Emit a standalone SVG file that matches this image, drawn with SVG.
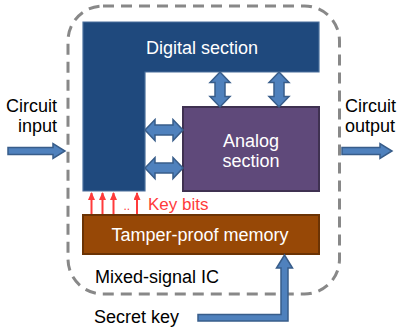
<svg xmlns="http://www.w3.org/2000/svg" width="398" height="331" viewBox="0 0 398 331">
<style>
text{font-family:"Liberation Sans",Arial,sans-serif;font-size:18px}
.w{fill:#ffffff}
.k{fill:#000000}
.arr{fill:#4F81BD;stroke:#385D8A;stroke-width:1.5;stroke-linejoin:miter}
.red{stroke:#FF3B3B;stroke-width:2;fill:none}
</style>
<defs>
<marker id="rh" viewBox="0 0 8 7" refX="7" refY="3.5" markerWidth="8" markerHeight="7" markerUnits="userSpaceOnUse" orient="auto">
<path d="M0,0 L8,3.5 L0,7 Z" fill="#FF3B3B"/>
</marker>
<polygon id="hda" points="0,0 10,-10.5 10,-5 28,-5 28,-10.5 38,0 28,10.5 28,5 10,5 10,10.5"/>
<polygon id="vda" points="0,0 10,10.5 5,10.5 5,24.5 10,24.5 0,35 -10,24.5 -5,24.5 -5,10.5 -10,10.5"/>
</defs>
<rect id="ic-boundary" x="68" y="6" width="271.5" height="288" rx="35" ry="35" fill="none" stroke="#888888" stroke-width="3" stroke-dasharray="11 7"/>
<g id="digital">
<path d="M83,22 H319 V72 H145 V191 H83 Z" fill="#1F497D" stroke="#4a6f9c" stroke-width="1.2"/>
<text class="w" x="202" y="54" text-anchor="middle">Digital section</text>
</g>
<g id="analog">
<rect x="183" y="107" width="136" height="84" fill="#5F497A" stroke="#3F3151" stroke-width="2"/>
<text class="w" x="251" y="147" text-anchor="middle">Analog</text>
<text class="w" x="251" y="167" text-anchor="middle">section</text>
</g>
<g id="memory">
<rect x="83" y="215" width="236" height="39" fill="#974806" stroke="#6b3304" stroke-width="2"/>
<text class="w" x="200" y="241" text-anchor="middle">Tamper-proof memory</text>
</g>
<g id="labels">
<text class="k" x="57" y="111.5" text-anchor="end">Circuit</text>
<text class="k" x="57" y="131.5" text-anchor="end">input</text>
<text class="k" x="345" y="111.5">Circuit</text>
<text class="k" x="345" y="131.5">output</text>
<text class="k" x="95" y="283">Mixed-signal IC</text>
<text class="k" x="94" y="323">Secret key</text>
<text x="148" y="210" fill="#FF3B3B" style="font-size:17px">Key bits</text>
<text x="123.5" y="210" fill="#FF3B3B" style="font-size:12px">..</text>
</g>
<g id="connectors">
<use href="#hda" class="arr" x="145" y="130"/>
<use href="#hda" class="arr" x="145" y="168"/>
<use href="#vda" class="arr" x="220" y="72"/>
<use href="#vda" class="arr" x="279" y="72"/>
<polygon class="arr" points="8,147.5 53,147.5 53,143.5 65,151 53,158.5 53,154.5 8,154.5"/>
<polygon class="arr" points="342,147.5 380,147.5 380,143.5 392,151 380,158.5 380,154.5 342,154.5"/>
<polygon class="arr" points="198,314.5 281,314.5 281,268 276.5,268 284.5,255 292.5,268 288,268 288,321 198,321"/>
<line class="red" x1="91.5" y1="214" x2="91.5" y2="193" marker-end="url(#rh)"/>
<line class="red" x1="102.5" y1="214" x2="102.5" y2="193" marker-end="url(#rh)"/>
<line class="red" x1="113.5" y1="214" x2="113.5" y2="193" marker-end="url(#rh)"/>
<line class="red" x1="137" y1="214" x2="137" y2="193" marker-end="url(#rh)"/>
</g>
</svg>
